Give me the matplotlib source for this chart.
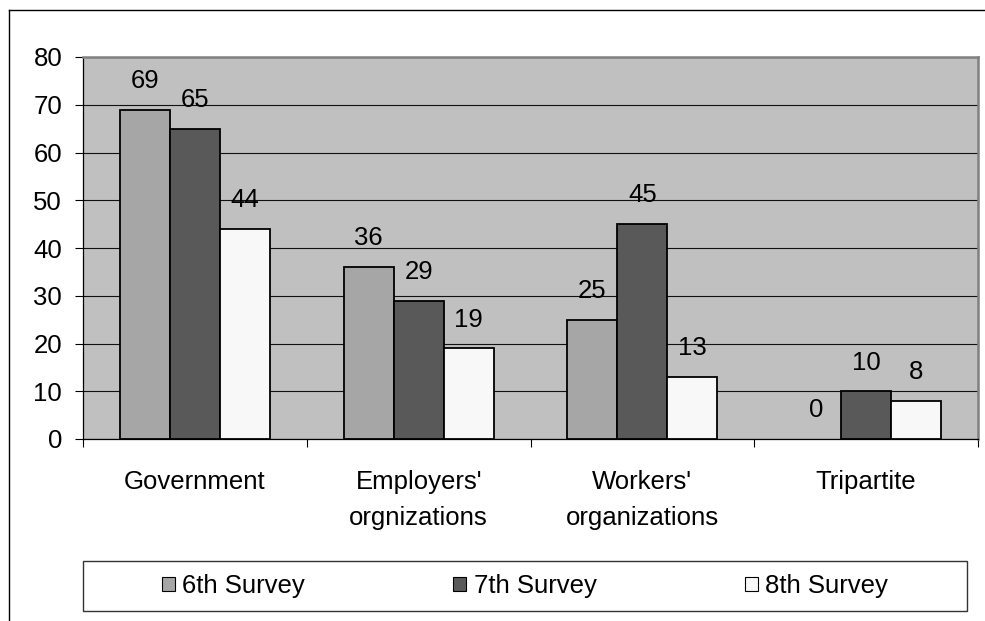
import matplotlib
matplotlib.use("Agg")
import matplotlib.pyplot as plt
import numpy as np
from matplotlib.patches import Patch, Rectangle
from matplotlib.lines import Line2D

plt.rcParams["font.family"] = ["Liberation Sans", "DejaVu Sans"]

categories = ["Government", "Employers'\norgnizations", "Workers'\norganizations", "Tripartite"]
series = ["6th Survey", "7th Survey", "8th Survey"]
survey6 = [69, 36, 25, 0]
survey7 = [65, 29, 45, 10]
survey8 = [44, 19, 13, 8]
colors = ["#a6a6a6", "#595959", "#f8f8f8"]

FS = 18.5

fig = plt.figure(figsize=(9.85, 6.21), dpi=100)
ax = fig.add_axes([83 / 985, 1 - 439 / 621, (978 - 83) / 985, (439 - 57) / 621])
ax.set_facecolor("#c0c0c0")

x = np.arange(len(categories))
w = 0.2235
for i, (vals, col) in enumerate(zip([survey6, survey7, survey8], colors)):
    pos = x + (i - 1) * w
    edges = ["black" if v > 0 else "none" for v in vals]
    ax.bar(pos, vals, width=w, color=col, edgecolor=edges, linewidth=1.3, zorder=3)
    for px, v in zip(pos, vals):
        ax.annotate(str(v), (px, v), xytext=(0, 12), textcoords="offset points",
                    ha="center", va="bottom", fontsize=FS)

ax.set_xlim(-0.5, len(categories) - 0.5)
ax.set_ylim(0, 80)
ax.set_yticks(range(0, 81, 10))
ax.yaxis.grid(True, color="#111111", linewidth=0.8, zorder=1)
ax.set_axisbelow(True)
ax.tick_params(axis="y", labelsize=FS, length=6, width=0.8, pad=9, color="black")

ax.set_xticks(x)
ax.set_xticklabels(categories, fontsize=FS, linespacing=1.65)
ax.tick_params(axis="x", which="major", length=0, pad=22)
ax.set_xticks(np.arange(len(categories) + 1) - 0.5, minor=True)
ax.tick_params(axis="x", which="minor", length=6, width=0.8, color="black")

for s in ["top", "right"]:
    ax.spines[s].set_color("#808080")
    ax.spines[s].set_linewidth(1.8)
ax.spines["left"].set_color("black")
ax.spines["bottom"].set_color("black")
ax.spines["left"].set_linewidth(0.9)
ax.spines["bottom"].set_linewidth(0.9)

# legend box
fig.patches.append(Rectangle((83 / 985, 1 - 611 / 621), (967 - 83) / 985, 50 / 621,
                             transform=fig.transFigure, facecolor="white",
                             edgecolor="#333333", linewidth=1.0))
handles = [Patch(facecolor=c, edgecolor="black", linewidth=0.8) for c in colors]
fig.legend(handles, series, loc="center", bbox_to_anchor=(525 / 985, 1 - 586 / 621),
           ncol=3, frameon=False, fontsize=FS, handlelength=0.5, handleheight=0.5,
           handletextpad=0.28, columnspacing=5.8)

# outer chart frame
fig.add_artist(Line2D([9 / 985, 9 / 985], [0, 1 - 10 / 621], transform=fig.transFigure,
                      color="black", linewidth=1.0))
fig.add_artist(Line2D([9 / 985, 1], [1 - 10 / 621, 1 - 10 / 621], transform=fig.transFigure,
                      color="black", linewidth=1.0))

fig.savefig("out.png", dpi=100)
